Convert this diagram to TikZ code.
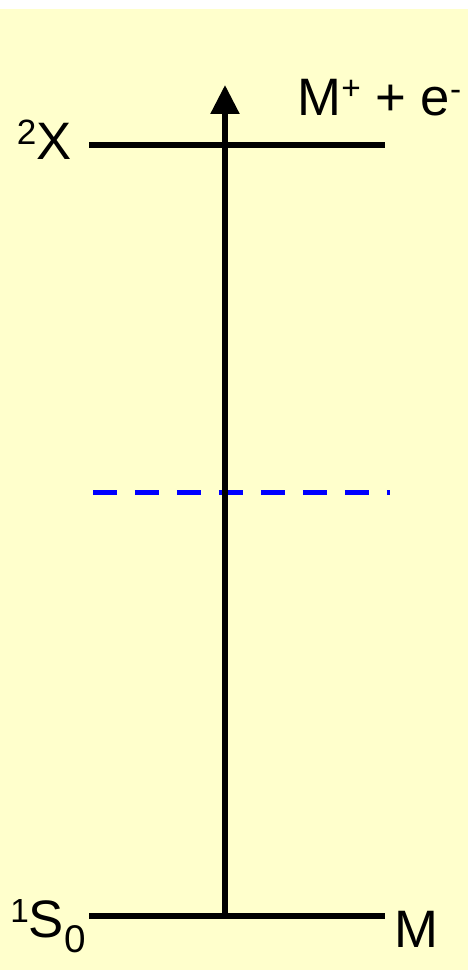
\documentclass[tikz,border=0pt]{standalone}
\usepackage{fontspec}
\setmainfont{Liberation Sans}
\usetikzlibrary{arrows.meta}
\definecolor{paleyellow}{HTML}{FFFFCC}
\newcommand{\upidx}[3]{\raisebox{#3}{\fontsize{#1}{#1}\selectfont #2}}
\newcommand{\lowidx}[3]{\raisebox{-#3}{\fontsize{#1}{#1}\selectfont #2}}

\begin{document}
\begin{tikzpicture}[x=0.02cm, y=-0.02cm,
  level/.style={line width=0.11cm},
  virt/.style={blue, line width=0.1cm, dash pattern=on 0.48cm off 0.36cm},
  arr/.style={-{Triangle[width=0.56cm, length=0.58cm]}, line width=0.11cm},
  lbl/.style={inner sep=0pt, font=\fontsize{30}{36}\selectfont}
]
  \useasboundingbox (0,0) rectangle (469,970);
  \fill[paleyellow] (0,9) rectangle (468,970);

  % energy levels
  \coordinate (ionL) at (89,145);   \coordinate (ionR) at (385,145);
  \coordinate (virL) at (93,492);   \coordinate (virR) at (390,492);
  \coordinate (gndL) at (89,916);   \coordinate (gndR) at (385,916);
  \coordinate (exc0) at (225,916);  \coordinate (exc1) at (225,85);

  \draw[level] (ionL) -- (ionR);
  \draw[level] (gndL) -- (gndR);
  \draw[virt]  (virL) -- (virR);
  \draw[arr]   (exc0) -- (exc1);

  % labels
  \node[lbl, anchor=base east] (ionS) at (72,159)
    {\upidx{20}{2}{8pt}X};
  \node[lbl, anchor=base west] (ionP) at (297,115)
    {M\upidx{19}{+}{9pt} + e\upidx{19}{-}{8.5pt}};
  \node[lbl, anchor=base west] (gndS) at (10,937)
    {\upidx{19}{1}{8.5pt}S\lowidx{22}{0}{8.8pt}};
  \node[lbl, anchor=base west] (gndP) at (394,947) {M};
\end{tikzpicture}
\end{document}
